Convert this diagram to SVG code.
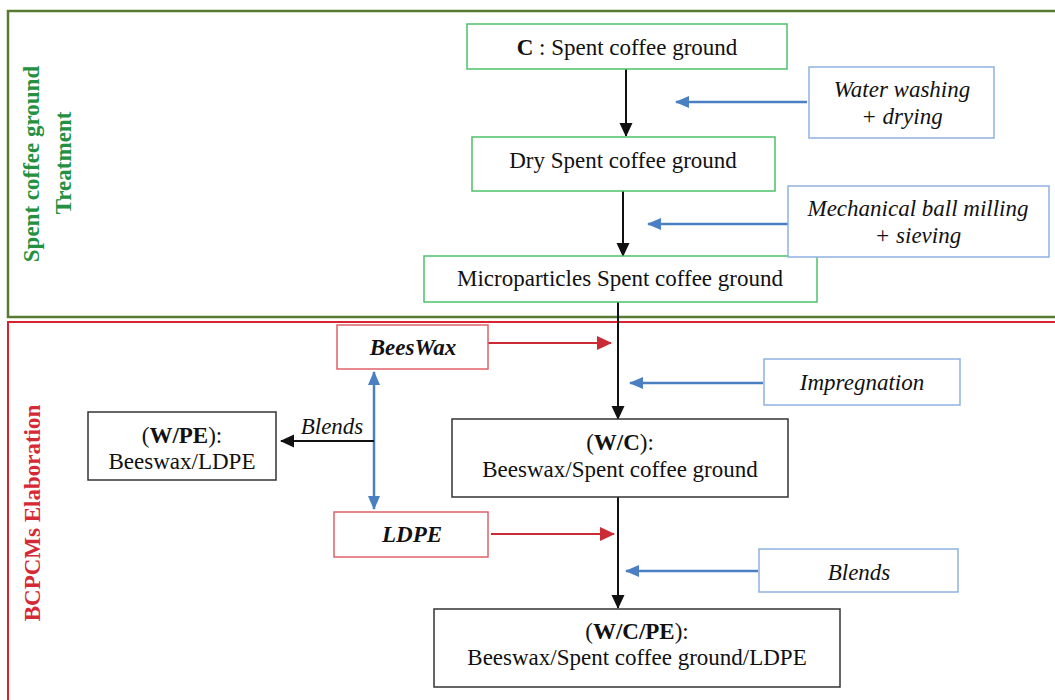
<svg xmlns="http://www.w3.org/2000/svg" width="1055" height="700" viewBox="0 0 1055 700">
<defs>
<style>
.t{font-family:"Liberation Serif","Times New Roman",serif;font-size:23px;fill:#111;text-anchor:middle}
.i{font-style:italic}
.b{font-weight:bold}
.gbox{fill:#fff;stroke:#4cc06a;stroke-width:1.5}
.bbox{fill:#fff;stroke:#8fb2e0;stroke-width:1.5}
.rbox{fill:#fff;stroke:#e0606a;stroke-width:1.5}
.kbox{fill:#fff;stroke:#333;stroke-width:1.5}
.ka{stroke:#111;stroke-width:2;fill:none}
.ba{stroke:#4a7fc1;stroke-width:2.5;fill:none}
.ra{stroke:#cc2a35;stroke-width:2;fill:none}
.lab{font-family:"Liberation Serif","Times New Roman",serif;font-size:23px;font-weight:bold;text-anchor:middle}
</style>
<marker id="mk" markerUnits="userSpaceOnUse" markerWidth="14" markerHeight="15" viewBox="0 0 14 15" refX="13" refY="7.5" orient="auto"><path d="M0,1 L14,7.5 L0,14 Z" fill="#111"/></marker>
<marker id="mb" markerUnits="userSpaceOnUse" markerWidth="14" markerHeight="14" viewBox="0 0 14 14" refX="13" refY="7" orient="auto-start-reverse"><path d="M0,1 L14,7 L0,13 Z" fill="#4a7fc1"/></marker>
<marker id="mr" markerUnits="userSpaceOnUse" markerWidth="15" markerHeight="16" viewBox="0 0 15 16" refX="14" refY="8" orient="auto"><path d="M0,1 L15,8 L0,15 Z" fill="#cc2a35"/></marker>
</defs>
<rect width="1055" height="700" fill="#fff"/>
<g id="section-treatment">
<rect x="8" y="11" width="1060" height="306" fill="none" stroke="#587a32" stroke-width="2.5"/>
<text class="lab" fill="#23913f" transform="translate(39,164) rotate(-90)">Spent coffee ground</text>
<text class="lab" fill="#23913f" transform="translate(71,163) rotate(-90)">Treatment</text>
</g>
<g id="section-elaboration">
<rect x="8" y="322" width="1060" height="400" fill="none" stroke="#d9242f" stroke-width="2"/>
<text class="lab" fill="#d42a35" transform="translate(40,513) rotate(-90)">BCPCMs Elaboration</text>
</g>
<g id="connectors">
<line class="ka" x1="626" y1="69" x2="626" y2="136" marker-end="url(#mk)"/>
<line class="ka" x1="623" y1="191" x2="623" y2="256" marker-end="url(#mk)"/>
<line class="ka" x1="618" y1="302" x2="618" y2="419" marker-end="url(#mk)"/>
<line class="ka" x1="618" y1="497" x2="618" y2="608" marker-end="url(#mk)"/>
<line class="ba" x1="807" y1="102" x2="676" y2="102" marker-end="url(#mb)"/>
<line class="ba" x1="788" y1="224" x2="648" y2="224" marker-end="url(#mb)"/>
<line class="ba" x1="763" y1="383" x2="630" y2="383" marker-end="url(#mb)"/>
<line class="ba" x1="758" y1="571" x2="626" y2="571" marker-end="url(#mb)"/>
<line class="ra" x1="488" y1="343" x2="611" y2="343" marker-end="url(#mr)"/>
<line class="ra" x1="491" y1="534" x2="614" y2="534" marker-end="url(#mr)"/>
<line class="ba" x1="374" y1="372" x2="374" y2="509" marker-start="url(#mb)" marker-end="url(#mb)"/>
<line class="ka" x1="374" y1="441" x2="281" y2="441" marker-end="url(#mk)"/>
<text class="t i" x="332" y="434">Blends</text>
</g>
<g id="node-c">
<rect class="gbox" x="467" y="24" width="320" height="45"/>
<text class="t" x="627" y="55"><tspan class="b">C</tspan> : Spent coffee ground</text>
</g>
<g id="node-dry">
<rect class="gbox" x="472" y="137" width="303" height="54"/>
<text class="t" x="623" y="168">Dry Spent coffee ground</text>
</g>
<g id="node-micro">
<rect class="gbox" x="424" y="256" width="393" height="46"/>
<text class="t" x="620" y="286">Microparticles Spent coffee ground</text>
</g>
<g id="node-water">
<rect class="bbox" x="809" y="67" width="185" height="71"/>
<text class="t i" x="902" y="97">Water washing</text>
<text class="t i" x="902" y="124">+ drying</text>
</g>
<g id="node-mech">
<rect class="bbox" x="788" y="186" width="261" height="71"/>
<text class="t i" x="918" y="216">Mechanical ball milling</text>
<text class="t i" x="918" y="243">+ sieving</text>
</g>
<g id="node-impregnation">
<rect class="bbox" x="764" y="359" width="196" height="46"/>
<text class="t i" x="862" y="390">Impregnation</text>
</g>
<g id="node-blends">
<rect class="bbox" x="759" y="549" width="199" height="43"/>
<text class="t i" x="859" y="580">Blends</text>
</g>
<g id="node-beeswax">
<rect class="rbox" x="337" y="325" width="151" height="44"/>
<text class="t i b" x="413" y="355">BeesWax</text>
</g>
<g id="node-ldpe">
<rect class="rbox" x="334" y="512" width="154" height="45"/>
<text class="t i b" x="412" y="542">LDPE</text>
</g>
<g id="node-wpe">
<rect class="kbox" x="88" y="412" width="188" height="68"/>
<text class="t" x="182" y="443">(<tspan class="b">W/PE</tspan>):</text>
<text class="t" x="182" y="469">Beeswax/LDPE</text>
</g>
<g id="node-wc">
<rect class="kbox" x="452" y="419" width="336" height="78"/>
<text class="t" x="620" y="450">(<tspan class="b">W/C</tspan>):</text>
<text class="t" x="620" y="477">Beeswax/Spent coffee ground</text>
</g>
<g id="node-wcpe">
<rect class="kbox" x="434" y="609" width="406" height="78"/>
<text class="t" x="637" y="639">(<tspan class="b">W/C/PE</tspan>):</text>
<text class="t" x="637" y="665">Beeswax/Spent coffee ground/LDPE</text>
</g>
</svg>
